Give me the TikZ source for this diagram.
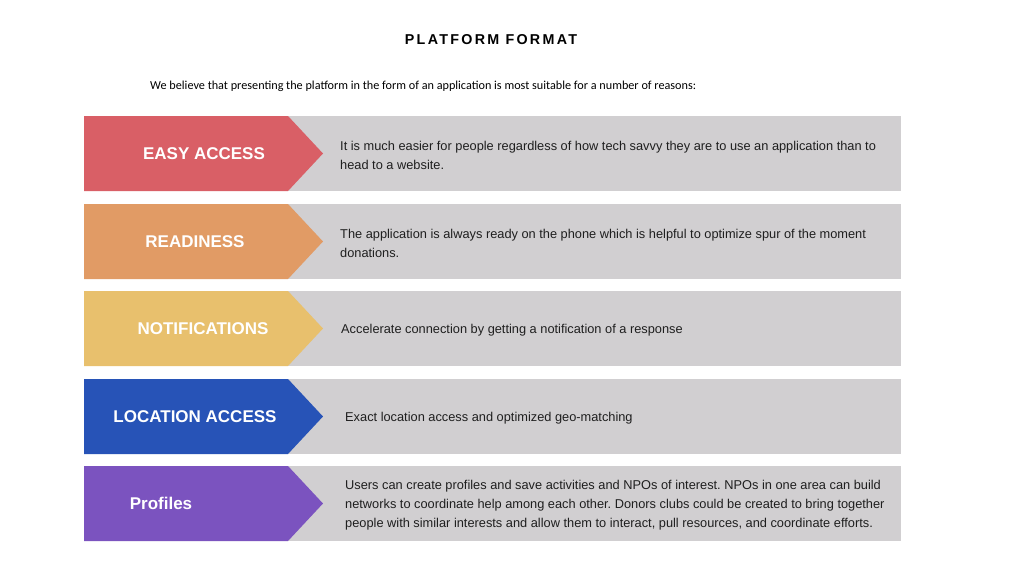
\documentclass[tikz,border=0pt]{standalone}
\usepackage{fontspec}
\setmainfont{Liberation Sans}
\newfontfamily\subfont{Carlito}
\newfontfamily\titlefont[LetterSpace=16]{Liberation Sans}
\frenchspacing

\definecolor{easyred}{HTML}{D95F66}
\definecolor{readyorange}{HTML}{E19B65}
\definecolor{notifyellow}{HTML}{E8C06D}
\definecolor{locblue}{HTML}{2753B7}
\definecolor{profpurple}{HTML}{7B53BF}
\definecolor{rowgray}{HTML}{D1CFD1}

\tikzset{
  rowlabel/.style={text=white, font=\fontsize{17}{20}\selectfont\bfseries, inner sep=0pt},
  rowtext/.style={anchor=west, align=left, text=black!88, inner sep=0pt,
    font=\fontsize{12.8}{19}\selectfont},
}

\begin{document}
\begin{tikzpicture}[x=1pt, y=-1pt]
\useasboundingbox (0,0) rectangle (1024,576);
\fill[white] (0,0) rectangle (1024,576);

\node[font=\titlefont\bfseries\fontsize{14.3}{16}\selectfont] (title) at (491,40) {PLATFORM FORMAT};
\node[anchor=west, inner sep=0pt, font=\subfont\fontsize{12.2}{14}\selectfont] (intro) at (150,86)
  {We believe that presenting the platform in the form of an application is most suitable for a number of reasons:};

% easy access
\fill[rowgray] (288,116) rectangle (901,191);
\fill[easyred] (84,116) -- (288,116) -- (323,153.5) -- (288,191) -- (84,191) -- cycle;
\node[rowlabel] (easy) at (204,153.5) {EASY ACCESS};
\node[rowtext] (easytxt) at (340,155) {It is much easier for people regardless of how tech savvy they are to use an application than to\\head to a website.};

% readiness
\fill[rowgray] (288,204) rectangle (901,279);
\fill[readyorange] (84,204) -- (288,204) -- (323,241.5) -- (288,279) -- (84,279) -- cycle;
\node[rowlabel] (ready) at (195,241.5) {READINESS};
\node[rowtext] (readytxt) at (340,243) {The application is always ready on the phone which is helpful to optimize spur of the moment\\donations.};

% notifications
\fill[rowgray] (288,291) rectangle (901,366);
\fill[notifyellow] (84,291) -- (288,291) -- (323,328.5) -- (288,366) -- (84,366) -- cycle;
\node[rowlabel] (notify) at (203,328.5) {NOTIFICATIONS};
\node[rowtext] (notifytxt) at (341,330) {Accelerate connection by getting a notification of a response};

% location access
\fill[rowgray] (288,379) rectangle (901,454);
\fill[locblue] (84,379) -- (288,379) -- (323,416.5) -- (288,454) -- (84,454) -- cycle;
\node[rowlabel] (loc) at (195,416.5) {LOCATION ACCESS};
\node[rowtext] (loctxt) at (345,418) {Exact location access and optimized geo-matching};

% profiles
\fill[rowgray] (288,466) rectangle (901,541);
\fill[profpurple] (84,466) -- (288,466) -- (323,503.5) -- (288,541) -- (84,541) -- cycle;
\node[rowlabel] (prof) at (161,503.5) {Profiles};
\node[rowtext] (proftxt) at (345,505) {Users can create profiles and save activities and NPOs of interest. NPOs in one area can build\\networks to coordinate help among each other. Donors clubs could be created to bring together\\people with similar interests and allow them to interact, pull resources, and coordinate efforts.};

\end{tikzpicture}
\end{document}
